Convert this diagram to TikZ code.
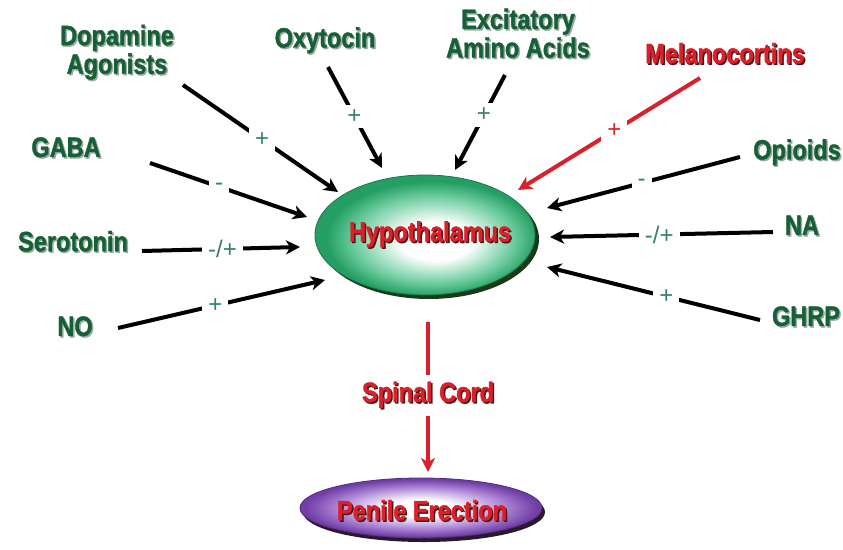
\documentclass[tikz,border=0pt]{standalone}
\usepackage{fontspec}
\newfontfamily\cfont{Liberation Sans}[FakeStretch=0.84,FakeBold=1.3]
\newfontfamily\sfont{Liberation Sans}
\usetikzlibrary{arrows.meta,shadows,shapes.geometric}
\definecolor{lblgreen}{RGB}{22,95,55}
\definecolor{lblshadow}{RGB}{150,170,158}
\definecolor{signgreen}{RGB}{55,130,100}
\definecolor{myred}{RGB}{218,32,42}
\definecolor{redshadow}{RGB}{80,20,20}
\definecolor{ellgreen}{RGB}{36,158,98}
\definecolor{ellgreenmid}{RGB}{110,205,160}
\definecolor{ellgreenrim}{RGB}{25,120,75}
\definecolor{ellpurple}{RGB}{112,62,165}
\definecolor{ellpurplemid}{RGB}{175,135,215}
\definecolor{ellpurplerim}{RGB}{85,40,130}
\pgfdeclareradialshading{hypshade}{\pgfpoint{3bp}{-3bp}}{color(0bp)=(white); color(8bp)=(white); color(18bp)=(ellgreenmid); color(24bp)=(ellgreen); color(50bp)=(ellgreen)}
\pgfdeclareradialshading{penshade}{\pgfpoint{0bp}{0bp}}{color(0bp)=(white); color(7bp)=(white); color(17bp)=(ellpurplemid); color(24bp)=(ellpurple); color(50bp)=(ellpurple)}
\newcommand\shtxt[2]{\makebox[0pt][l]{\kern1.5pt\raisebox{-1.5pt}{\textcolor{#1}{#2}}}#2}
\begin{document}
\begin{tikzpicture}[x=1pt,y=-1pt,
  lbl/.style={font=\cfont\bfseries\fontsize{28}{26}\selectfont, text=lblgreen, align=center, inner sep=0pt},
  redlbl/.style={font=\cfont\bfseries\fontsize{28}{26}\selectfont, text=myred, align=center, inner sep=0pt},
  sign/.style={font=\sfont\fontsize{24}{24}\selectfont, text=signgreen, fill=white, inner xsep=6pt, inner ysep=5pt},
  redsign/.style={sign, text=myred},
  arr/.style={line width=4pt, -{Stealth[length=14pt,width=14pt,inset=4pt]}},
  redarr/.style={arr, draw=myred},
  hypo/.style={ellipse, minimum width=220pt, minimum height=120pt, inner sep=0pt, shading=hypshade, draw=ellgreenrim, line width=0.8pt,
    drop shadow={shadow xshift=4pt, shadow yshift=-4pt, fill=black!85!green, opacity=0.9}},
  pen/.style={ellipse, minimum width=242pt, minimum height=60pt, inner sep=0pt, shading=penshade, draw=ellpurplerim, line width=0.8pt,
    drop shadow={shadow xshift=3pt, shadow yshift=-4pt, fill=black!85!violet, opacity=0.9}}
]
\useasboundingbox (0,0) rectangle (843,549);
\fill[white] (0,0) rectangle (843,549);

% central ellipses
\node[hypo] (hyp) at (425,235) {};
\node[redlbl] (hyptxt) at (430,235) {\shtxt{redshadow}{Hypothalamus}};
\node[pen] (pen) at (421,508) {};
\node[redlbl] (pentxt) at (422,511) {\shtxt{redshadow}{Penile Erection}};

% labels
\node[lbl] (dopa) at (117,53) {\shtxt{lblshadow}{Dopamine}\\\shtxt{lblshadow}{Agonists}};
\node[lbl] (oxy) at (325,41) {\shtxt{lblshadow}{Oxytocin}};
\node[lbl] (exc) at (518,34) {\shtxt{lblshadow}{Excitatory}\\\shtxt{lblshadow}{Amino Acids}};
\node[redlbl] (mel) at (725,54) {\shtxt{redshadow}{Melanocortins}};
\node[lbl] (gaba) at (66,148) {\shtxt{lblshadow}{GABA}};
\node[lbl] (sero) at (73,242) {\shtxt{lblshadow}{Serotonin}};
\node[lbl] (no) at (75,327) {\shtxt{lblshadow}{NO}};
\node[lbl] (opi) at (797,153) {\shtxt{lblshadow}{Opioids}};
\node[lbl] (na) at (802,226) {\shtxt{lblshadow}{NA}};
\node[lbl] (ghrp) at (806,317) {\shtxt{lblshadow}{GHRP}};

% connector end points
\coordinate (dopaS) at (183,85);   \coordinate (dopaT) at (338,192);
\coordinate (oxyS) at (328,67);    \coordinate (oxyT) at (382,168);
\coordinate (excS) at (505,75);    \coordinate (excT) at (455,170);
\coordinate (melS) at (700,78);    \coordinate (melT) at (518,190);
\coordinate (gabaS) at (150,163);  \coordinate (gabaT) at (307,217);
\coordinate (seroS) at (142,251);  \coordinate (seroT) at (300,247);
\coordinate (noS) at (118,328);    \coordinate (noT) at (325,280);
\coordinate (opiS) at (740,157);   \coordinate (opiT) at (547,208);
\coordinate (naS) at (773,232);    \coordinate (naT) at (550,237);
\coordinate (ghrpS) at (760,320);  \coordinate (ghrpT) at (547,267);
\coordinate (scS) at (428,322);    \coordinate (scT) at (428,472);

% connectors
\draw[arr] (dopaS) -- node[sign,pos=0.51] {+} (dopaT);
\draw[arr] (oxyS) -- node[sign,pos=0.49] {+} (oxyT);
\draw[arr] (excS) -- node[sign,pos=0.42] {+} (excT);
\draw[redarr] (melS) -- node[redsign,pos=0.47] {+} (melT);
\draw[arr] (gabaS) -- node[sign,pos=0.44] {-} (gabaT);
\draw[arr] (seroS) -- node[sign,pos=0.51] {-/+} (seroT);
\draw[arr] (noS) -- node[sign,pos=0.47] {+} (noT);
\draw[arr] (opiS) -- node[sign,pos=0.51] {-} (opiT);
\draw[arr] (naS) -- node[sign,pos=0.51] {-/+} (naT);
\draw[arr] (ghrpS) -- node[sign,pos=0.44] {+} (ghrpT);
\draw[redarr] (scS) -- node[redlbl,fill=white,inner xsep=2pt,inner ysep=7pt,pos=0.49] (spinal) {\shtxt{redshadow}{Spinal Cord}} (scT);
\end{tikzpicture}
\end{document}
